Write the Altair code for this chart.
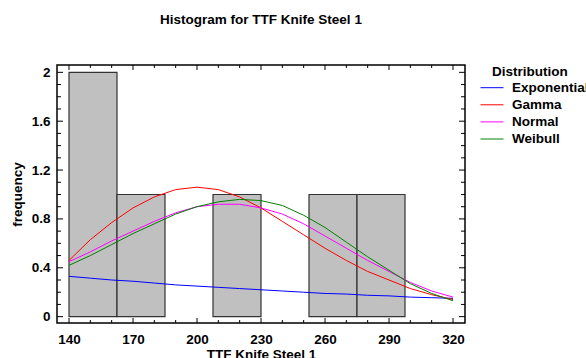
import altair as alt
import pandas as pd

FONT = "Liberation Sans"
FS = 13.5

# Histogram bins
bin_start = [140.0, 162.5, 185.0, 207.5, 230.0, 252.5, 275.0, 297.5]
bin_end = [162.5, 185.0, 207.5, 230.0, 252.5, 275.0, 297.5, 320.0]
counts = [2, 1, 0, 1, 0, 1, 1, 0]

# Fitted distribution curves
curve_x = [140, 150, 160, 170, 180, 190, 200, 210, 220, 230,
           240, 250, 260, 270, 280, 290, 300, 310, 320]
exponential = [0.33, 0.315, 0.30, 0.29, 0.275, 0.26, 0.25, 0.24, 0.23, 0.22,
               0.21, 0.20, 0.19, 0.185, 0.175, 0.17, 0.16, 0.155, 0.15]
gamma = [0.46, 0.63, 0.77, 0.89, 0.98, 1.04, 1.06, 1.04, 0.98, 0.89,
         0.78, 0.67, 0.56, 0.46, 0.37, 0.30, 0.23, 0.18, 0.14]
normal = [0.45, 0.53, 0.62, 0.70, 0.78, 0.85, 0.90, 0.92, 0.92, 0.89,
          0.84, 0.76, 0.66, 0.56, 0.46, 0.37, 0.28, 0.21, 0.16]
weibull = [0.42, 0.50, 0.59, 0.68, 0.76, 0.84, 0.90, 0.94, 0.96, 0.95,
           0.91, 0.83, 0.73, 0.61, 0.49, 0.38, 0.27, 0.19, 0.13]

dist_names = ["Exponential", "Gamma", "Normal", "Weibull"]
dist_colors = ["#0000ff", "#ff0000", "#ff00ff", "#008000"]

# Axis ticks
x_major = [140, 170, 200, 230, 260, 290, 320]
x_minor = [150, 160, 180, 190, 210, 220, 240, 250, 270, 280, 300, 310]
y_major = [0, 0.4, 0.8, 1.2, 1.6, 2.0]
y_minor = [0.1, 0.2, 0.3, 0.5, 0.6, 0.7, 0.9, 1.0, 1.1, 1.3, 1.4, 1.5,
           1.7, 1.8, 1.9]

W, H = 408, 258

hist_df = pd.DataFrame({"start": bin_start, "end": bin_end, "count": counts})
curve_rows = []
for name, vals in zip(dist_names, [exponential, gamma, normal, weibull]):
    for xv, yv in zip(curve_x, vals):
        curve_rows.append({"x": xv, "y": yv, "dist": name})
curve_df = pd.DataFrame(curve_rows)

xs = alt.Scale(domain=[134.375, 325.625], nice=False, zero=False)
ys = alt.Scale(domain=[-0.052, 2.06], nice=False, zero=False)

x_axis = alt.Axis(values=x_major, ticks=False, tickSize=0, domain=False, grid=False,
                  labelFont=FONT, labelFontSize=FS, labelFontWeight="bold",
                  labelColor="black", labelPadding=9, labelFlush=False,
                  labelOverlap=False,
                  title="TTF Knife Steel 1", titleFont=FONT, titleFontSize=FS,
                  titleFontWeight="bold", titleColor="black",
                  titleX=204, titleY=35.5, titleBaseline="alphabetic",
                  titleAlign="center")
y_axis = alt.Axis(values=y_major, format="~g", ticks=False, tickSize=0,
                  domain=False, grid=False,
                  labelFont=FONT, labelFontSize=FS, labelFontWeight="bold",
                  labelColor="black", labelPadding=7, labelFlush=False,
                  labelOverlap=False,
                  title="frequency", titleFont=FONT, titleFontSize=FS,
                  titleFontWeight="bold", titleColor="black",
                  titleX=-40, titleY=129, titleAngle=270,
                  titleBaseline="middle", titleAlign="center")

bars = alt.Chart(hist_df).transform_filter("datum.count > 0").mark_bar(
    fill="#c0c0c0", stroke="#333333", strokeWidth=1.2
).encode(
    x=alt.X("start:Q", scale=xs, axis=x_axis),
    x2="end:Q",
    y=alt.Y("count:Q", scale=ys, axis=y_axis),
    y2=alt.datum(0),
)

lines = alt.Chart(curve_df).mark_line(strokeWidth=1).encode(
    x=alt.X("x:Q", scale=xs, axis=x_axis),
    y=alt.Y("y:Q", scale=ys, axis=y_axis),
    color=alt.Color(
        "dist:N",
        scale=alt.Scale(domain=dist_names, range=dist_colors),
        legend=alt.Legend(
            orient="none", legendX=423, legendY=16, title=None,
            symbolType="stroke", symbolStrokeWidth=1, symbolSize=529,
            labelFont=FONT, labelFontSize=FS, labelFontWeight="bold",
            labelColor="black", labelOffset=8, rowPadding=2.1, padding=0,
            clipHeight=13.4, labelLimit=300,
        ),
    ),
    detail="dist:N",
)


def xticks(vals, y0, y1):
    return alt.Chart(pd.DataFrame({"v": vals})).mark_rule(
        color="black", strokeWidth=1
    ).encode(x=alt.X("v:Q", scale=xs, axis=x_axis), y=alt.value(y0), y2=alt.value(y1))


def yticks(vals, x0, x1):
    return alt.Chart(pd.DataFrame({"v": vals})).mark_rule(
        color="black", strokeWidth=1
    ).encode(y=alt.Y("v:Q", scale=ys, axis=y_axis), x=alt.value(x0), x2=alt.value(x1))


tick_layers = [
    xticks(x_major, H, H - 5), xticks(x_minor, H, H - 3),
    xticks(x_major, 0, 5), xticks(x_minor, 0, 3),
    yticks(y_major, 0, 6), yticks(y_minor, 0, 4),
    yticks(y_major, W, W - 6), yticks(y_minor, W, W - 4),
]

legend_title = alt.Chart(pd.DataFrame({"t": ["Distribution"]})).mark_text(
    align="left", baseline="middle", font=FONT, fontSize=FS,
    fontWeight="bold", color="black"
).encode(x=alt.value(435), y=alt.value(7), text="t:N")

chart = alt.layer(bars, lines, *tick_layers, legend_title).properties(
    width=W, height=H,
    padding={"left": 57, "top": 65, "right": 121, "bottom": 35},
    autosize=alt.AutoSizeParams(type="none"),
    background="white",
    title=alt.Title("Histogram for TTF Knife Steel 1", font=FONT, fontSize=FS,
                    fontWeight="bold", color="black", anchor="middle",
                    offset=38),
).configure_view(stroke="black", strokeWidth=1.5)

chart.save("out.html", embed_options={"renderer": "svg", "actions": False})
